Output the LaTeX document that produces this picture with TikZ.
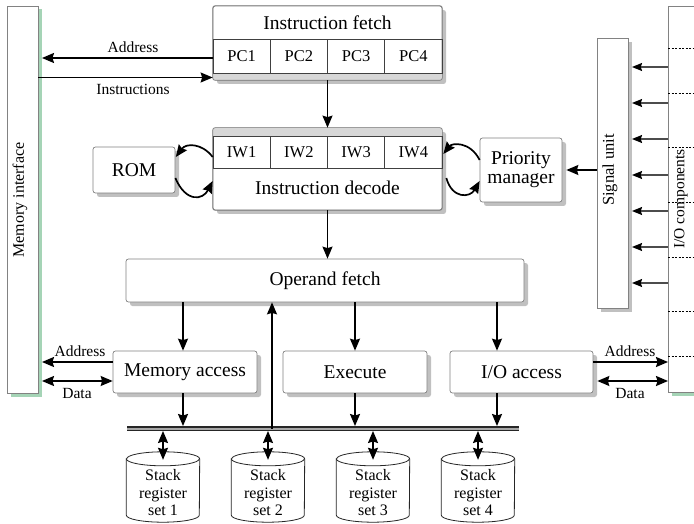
\documentclass[tikz,border=0pt]{standalone}
\usepackage{fontspec}
\setmainfont{Liberation Serif}
\usetikzlibrary{shapes.geometric,shadows,arrows.meta,calc}
\definecolor{shadowgray}{RGB}{192,192,192}
\definecolor{shadowgreen}{RGB}{165,212,182}
\definecolor{boxline}{RGB}{130,130,130}
\definecolor{stripgray}{RGB}{215,215,215}
\tikzset{
  box/.style={draw=boxline, line width=0.7pt, rounded corners=2.5pt, fill=white,
    inner sep=0pt, align=center,
    drop shadow={shadow xshift=4pt, shadow yshift=-4pt, fill=shadowgray, opacity=1}},
  gbox/.style={draw=boxline, line width=0.7pt, fill=white, inner sep=0pt,
    drop shadow={shadow xshift=3.5pt, shadow yshift=-3.5pt, fill=shadowgreen, opacity=1}},
  cell/.style={draw=black!75, line width=0.7pt, inner sep=0pt, font=\fontsize{16.5}{18}\selectfont},
  big/.style={font=\fontsize{19.5}{22}\selectfont},
  lab/.style={font=\fontsize{15.5}{17}\selectfont, inner sep=0pt},
  arr/.style={line width=1.7pt, -{Stealth[length=12pt,width=10pt,inset=1.5pt]}},
  darr/.style={line width=1.7pt, {Stealth[length=12pt,width=10pt,inset=1.5pt]}-{Stealth[length=12pt,width=10pt,inset=1.5pt]}},
  sarr/.style={line width=1.1pt, draw=black!70, -{Stealth[length=10pt,width=8pt,inset=1.2pt,color=black]}},
  stackbox/.style={minimum width=73pt, minimum height=70pt, inner sep=0pt},
  stackline/.style={draw=black!85, line width=0.8pt, fill=white},
  stacktext/.style={align=center, inner sep=0pt, font=\fontsize{16}{17.5}\selectfont},
  dash io/.style={dashed, line width=0.6pt, dash pattern=on 2pt off 1.5pt}
}
\begin{document}
\begin{tikzpicture}[x=1pt,y=-1pt]
\useasboundingbox (0,0) rectangle (694,524);
\fill[white] (0,0) rectangle (694,524);

% memory interface
\node[gbox, minimum width=31pt, minimum height=387pt] (mem) at (22.5,199.5) {};
\node[rotate=90, lab, font=\fontsize{16}{18}\selectfont] (memtxt) at (20,200) {Memory interface};

% I/O components
\node[gbox, minimum width=50pt, minimum height=386pt, anchor=north west] (io) at (668,6) {};
\foreach \yy in {48,93,147,202,257,311,356}{
  \draw[dash io] (io.west |- 0,\yy) -- (694,\yy);
}
\node[rotate=90, lab, font=\fontsize{15.5}{18}\selectfont] (iotxt) at (681,199) {I/O components};

% instruction fetch
\node[box, minimum width=229pt, minimum height=74pt] (fetch) at (327.5,43) {};
\begin{scope}
  \clip[rounded corners=2.5pt] (fetch.south west) rectangle (fetch.north east);
  \fill[stripgray] (213,73) rectangle (442,80);
\end{scope}
\draw[boxline, line width=0.7pt, rounded corners=2.5pt] (fetch.south west) rectangle (fetch.north east);
\node[big] (fetchtxt) at (327.5,22.5) {Instruction fetch};
\node[cell, minimum width=57.25pt, minimum height=34pt] (pc1) at (241.6,56) {PC1};
\node[cell, minimum width=57.25pt, minimum height=34pt] (pc2) at (298.9,56) {PC2};
\node[cell, minimum width=57.25pt, minimum height=34pt] (pc3) at (356.1,56) {PC3};
\node[cell, minimum width=57.25pt, minimum height=34pt] (pc4) at (413.4,56) {PC4};

% instruction decode
\node[box, minimum width=229pt, minimum height=82pt] (dec) at (327.5,169) {};
\begin{scope}
  \clip[rounded corners=2.5pt] (dec.south west) rectangle (dec.north east);
  \fill[stripgray] (213,128) rectangle (442,136);
\end{scope}
\draw[boxline, line width=0.7pt, rounded corners=2.5pt] (dec.south west) rectangle (dec.north east);
\node[cell, minimum width=57.25pt, minimum height=32pt] (iw1) at (241.6,152) {IW1};
\node[cell, minimum width=57.25pt, minimum height=32pt] (iw2) at (298.9,152) {IW2};
\node[cell, minimum width=57.25pt, minimum height=32pt] (iw3) at (356.1,152) {IW3};
\node[cell, minimum width=57.25pt, minimum height=32pt] (iw4) at (413.4,152) {IW4};
\node[big] (dectxt) at (327.5,188) {Instruction decode};

% ROM and priority manager
\node[box, big, minimum width=82pt, minimum height=46pt] (rom) at (134,170) {ROM};
\node[box, big, minimum width=82pt, minimum height=64pt] (pm) at (521,170) {Priority\\[-3pt]manager};

% signal unit
\node[box, rounded corners=0pt, minimum width=31pt, minimum height=270pt] (su) at (612.5,173) {};
\node[rotate=90, lab, font=\fontsize{16.5}{18}\selectfont] (sutxt) at (610,170) {Signal unit};

% operand fetch and lower boxes
\node[box, big, minimum width=398pt, minimum height=43pt] (opf) at (325,280.5) {Operand fetch};
\node[box, big, minimum width=144pt, minimum height=42pt] (memacc) at (185,372) {Memory access};
\node[box, big, minimum width=144pt, minimum height=42pt] (exe) at (355,372) {Execute};
\node[box, big, minimum width=143pt, minimum height=42pt] (ioacc) at (521.5,372) {I/O access};

% stacks (cylinders)
\node[stackbox] (s1) at (163,487) {};
\node[stackbox] (s2) at (268,487) {};
\node[stackbox] (s3) at (373,487) {};
\node[stackbox] (s4) at (478,487) {};
\foreach \s in {s1,s2,s3,s4}{
  \draw[stackline] ([yshift=-7pt]\s.north west) -- ([yshift=7pt]\s.south west)
    arc[start angle=180, end angle=0, x radius=36.5, y radius=7]
    -- ([yshift=-7pt]\s.north east)
    arc[start angle=0, end angle=-180, x radius=36.5, y radius=7] -- cycle;
  \draw[stackline, fill=none] ([yshift=-7pt]\s.north west)
    arc[start angle=180, end angle=0, x radius=36.5, y radius=7];
}
\node[stacktext] (t1) at (163,493) {Stack\\register\\set 1};
\node[stacktext] (t2) at (268,493) {Stack\\register\\set 2};
\node[stacktext] (t3) at (373,493) {Stack\\register\\set 3};
\node[stacktext] (t4) at (478,493) {Stack\\register\\set 4};

% bus
\coordinate (busL) at (127,428.5);
\coordinate (busR) at (519,428.5);
\draw[line width=4.5pt, black!35] (busL) -- (busR);
\draw[line width=1.8pt, black!85] ([yshift=1.4pt]busL) -- ([yshift=1.4pt]busR);
\draw[line width=0.9pt, black!85] ([yshift=-1.8pt]busL) -- ([yshift=-1.8pt]busR);
\coordinate (bustop) at (0,426);
\coordinate (busbot) at (0,431);

% helper coordinates
\coordinate (yaddr) at (0,58);
\coordinate (yinst) at (0,77.5);
\coordinate (ymad) at (0,362);
\coordinate (ymdat) at (0,381);
\coordinate (xmem) at (42,0);
\coordinate (xmemarr) at (183,0);
\coordinate (xioarr) at (497,0);
\coordinate (xsu) at (632,0);
\coordinate (xbusup) at (272,0);

% fetch <-> memory
\draw[arr] (fetch.west |- yaddr) -- (xmem |- yaddr);
\node[lab] (laddr1) at (133,47) {Address};
\draw[arr] (mem.east |- yinst) -- (fetch.west |- yinst);
\node[lab] (linst) at (133,89) {Instructions};

% fetch -> decode
\draw[arr] (fetch.south) -- (dec.north);

% ROM arcs
\draw[arr] (dec.west |- 0,157) .. controls (202,143) and (186,143) .. ([xshift=0.5pt]rom.east |- 0,157);
\draw[arr] (rom.east |- 0,178) .. controls (186,203) and (203,200) .. (dec.west |- 0,181);

% priority arcs
\draw[arr] (pm.west |- 0,160) .. controls (470,141) and (452,143) .. ([xshift=1pt]dec.east |- 0,154);
\draw[arr] ([xshift=4pt]dec.east |- 0,178) .. controls (452,199) and (470,198) .. (pm.west |- 0,181);

% signal unit -> priority manager
\draw[arr] (su.west |- pm) -- ([xshift=4pt]pm.east);

% io -> signal unit
\foreach \yy in {67,103,139,175,211,247,283}{
  \draw[sarr] (io.west |- 0,\yy) -- (xsu |- 0,\yy);
}

% decode -> operand fetch
\draw[arr] (dec.south) -- (dec.south |- opf.north);

% operand fetch -> lower boxes
\draw[arr] (opf.south -| xmemarr) -- (memacc.north -| xmemarr);
\draw[arr] (opf.south -| exe.north) -- (exe.north);
\draw[arr] (opf.south -| xioarr) -- (ioacc.north -| xioarr);

% lower boxes -> bus
\draw[arr] (memacc.south -| xmemarr) -- (xmemarr |- bustop);
\draw[arr] (exe.south) -- (exe.south |- bustop);
\draw[arr] (ioacc.south -| xioarr) -- (xioarr |- bustop);

% bus -> operand fetch
\draw[arr] (xbusup |- busL) -- (opf.south -| xbusup);

% bus <-> stacks
\foreach \s in {s1,s2,s3,s4}{
  \draw[darr] (\s.center |- busbot) -- ([yshift=-8pt]\s.north);
}

% memory access <-> memory
\draw[arr] (memacc.west |- ymad) -- (xmem |- ymad);
\draw[darr] (xmem |- ymdat) -- (memacc.west |- ymdat);
\node[lab] (laddr2) at (80,351) {Address};
\node[lab] (ldata1) at (77,393) {Data};

% io access <-> io
\draw[arr] (ioacc.east |- ymad) -- (io.west |- ymad);
\draw[darr] ([xshift=4pt]ioacc.east |- ymdat) -- (io.west |- ymdat);
\node[lab] (laddr3) at (630,351) {Address};
\node[lab] (ldata2) at (630,393) {Data};
\end{tikzpicture}
\end{document}
